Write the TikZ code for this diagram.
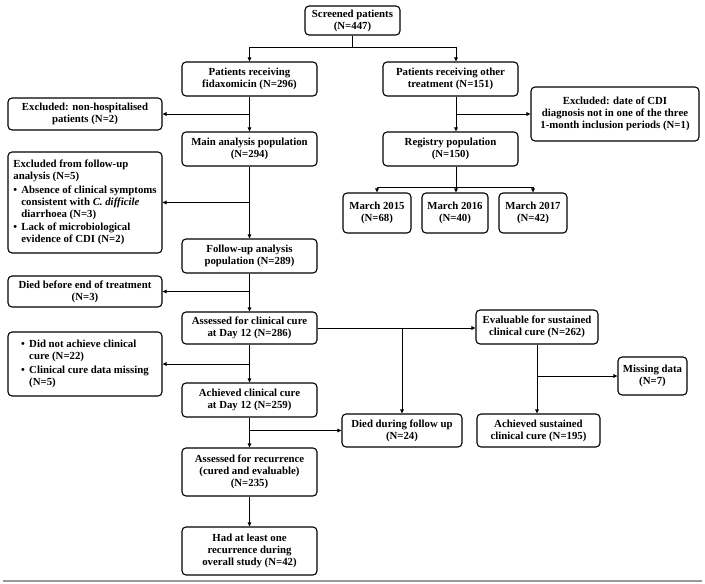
\documentclass[tikz,border=0pt]{standalone}
\usepackage{fontspec}
\setmainfont{Liberation Serif}
\usetikzlibrary{arrows.meta}
\begin{document}
\begin{tikzpicture}[x=1pt,y=1pt,
  box/.style={draw, line width=1.1pt, rounded corners=4pt, align=center, inner sep=1pt,
    font=\bfseries\fontsize{10.8}{11.9}\selectfont},
  lbox/.style={box, align=left},
  conn/.style={line width=1pt},
  arr/.style={conn, -{Triangle[length=4pt,width=3.6pt]}}]
\useasboundingbox (0,0) rectangle (705,-584);
% nodes
\node[box, minimum width=95, minimum height=29] (scr) at (352.5,-20.5) {Screened patients\\(N=447)};
\node[box, minimum width=135, minimum height=34] (fid) at (249.5,-79) {Patients receiving\\fidaxomicin (N=296)};
\node[box, minimum width=135, minimum height=34] (oth) at (450.5,-79) {Patients receiving other\\treatment (N=151)};
\node[box, minimum width=154, minimum height=32] (exh) at (85,-114) {Excluded: non-hospitalised\\patients (N=2)};
\node[box, minimum width=135, minimum height=34] (mai) at (249.5,-149) {Main analysis population\\(N=294)};
\node[box, minimum width=168, minimum height=54] (exc) at (615,-114) {Excluded: date of CDI\\diagnosis not in one of the three\\1-month inclusion periods (N=1)};
\node[box, minimum width=135, minimum height=34] (reg) at (450.5,-149) {Registry population\\(N=150)};
\node[box, minimum width=68, minimum height=40] (m15) at (377,-213) {March 2015\\(N=68)};
\node[box, minimum width=66, minimum height=40] (m16) at (455,-213) {March 2016\\(N=40)};
\node[box, minimum width=68, minimum height=40] (m17) at (533,-213) {March 2017\\(N=42)};
\node[lbox, minimum width=154, minimum height=101] (exf) at (85,-202.5) {Excluded from follow-up\\analysis (N=5)\\[2pt]\makebox[8pt][l]{\textbullet}Absence of clinical symptoms\\\hspace*{8pt}consistent with \textit{C. difficile}\\\hspace*{8pt}diarrhoea (N=3)\\[2pt]\makebox[8pt][l]{\textbullet}Lack of microbiological\\\hspace*{8pt}evidence of CDI (N=2)};
\node[box, minimum width=135, minimum height=34] (fol) at (249.5,-256) {Follow-up analysis\\population (N=289)};
\node[box, minimum width=154, minimum height=31] (dbe) at (85,-291.5) {Died before end of treatment\\(N=3)};
\node[box, minimum width=135, minimum height=32] (acc) at (249.5,-328) {Assessed for clinical cure\\at Day 12 (N=286)};
\node[lbox, minimum width=154, minimum height=64] (dna) at (85,-364) {\makebox[8pt][l]{\textbullet}Did not achieve clinical\\\hspace*{8pt}cure (N=22)\\[2pt]\makebox[8pt][l]{\textbullet}Clinical cure data missing\\\hspace*{8pt}(N=5)};
\node[box, minimum width=135, minimum height=34] (ach) at (249.5,-400) {Achieved clinical cure\\at Day 12 (N=259)};
\node[box, minimum width=120, minimum height=33] (dfu) at (402,-430.5) {Died during follow up\\(N=24)};
\node[box, minimum width=122, minimum height=34] (eva) at (537,-327) {Evaluable for sustained\\clinical cure (N=262)};
\node[box, minimum width=69, minimum height=38] (mis) at (652.5,-376) {Missing data\\(N=7)};
\node[box, minimum width=123, minimum height=33] (asu) at (538.5,-430.5) {Achieved sustained\\clinical cure (N=195)};
\node[box, minimum width=135, minimum height=48] (rec) at (249.5,-472) {Assessed for recurrence\\(cured and evaluable)\\(N=235)};
\node[box, minimum width=135, minimum height=48] (had) at (249.5,-551) {Had at least one\\recurrence during\\overall study (N=42)};
% helper coordinates
\coordinate (j1) at (0,-47);
\coordinate (t2) at (456,0);
\coordinate (jr) at (0,-187);
% connectors
\draw[conn] (scr.south) -- (scr.south |- j1);
\draw[conn] (fid.north |- j1) -- (t2 |- j1);
\draw[arr] (fid.north |- j1) -- (fid.north);
\draw[arr] (t2 |- j1) -- (t2 |- oth.north);
\draw[arr] (fid.south) -- (mai.north);
\draw[arr] (fid.south |- exh.east) -- (exh.east);
\draw[arr] (t2 |- oth.south) -- (t2 |- reg.north);
\draw[arr] (t2 |- exc.west) -- (exc.west);
\draw[arr] (t2 |- reg.south) -- (t2 |- m16.north);
\draw[conn] (m15.north |- jr) -- (m17.north |- jr);
\draw[arr] (m15.north |- jr) -- (m15.north);
\draw[arr] (m17.north |- jr) -- (m17.north);
\draw[arr] (mai.south) -- (fol.north);
\draw[arr] (mai.south |- exf.east) -- (exf.east);
\draw[arr] (fol.south) -- (acc.north);
\draw[arr] (fol.south |- dbe.east) -- (dbe.east);
\draw[arr] (acc.south) -- (ach.north);
\draw[arr] (acc.south |- dna.east) -- (dna.east);
\draw[arr] (acc.east) -- (acc.east -| eva.west);
\draw[arr] (dfu.north |- acc.east) -- (dfu.north);
\draw[arr] (ach.south) -- (rec.north);
\draw[arr] (ach.south |- dfu.west) -- (dfu.west);
\draw[arr] (rec.south) -- (had.north);
\draw[arr] (eva.south) -- (eva.south |- asu.north);
\draw[arr] (eva.south |- mis.west) -- (mis.west);
% bottom rule
\draw[line width=1.6pt, gray!80] (3,-581) -- (702,-581);
\end{tikzpicture}
\end{document}
